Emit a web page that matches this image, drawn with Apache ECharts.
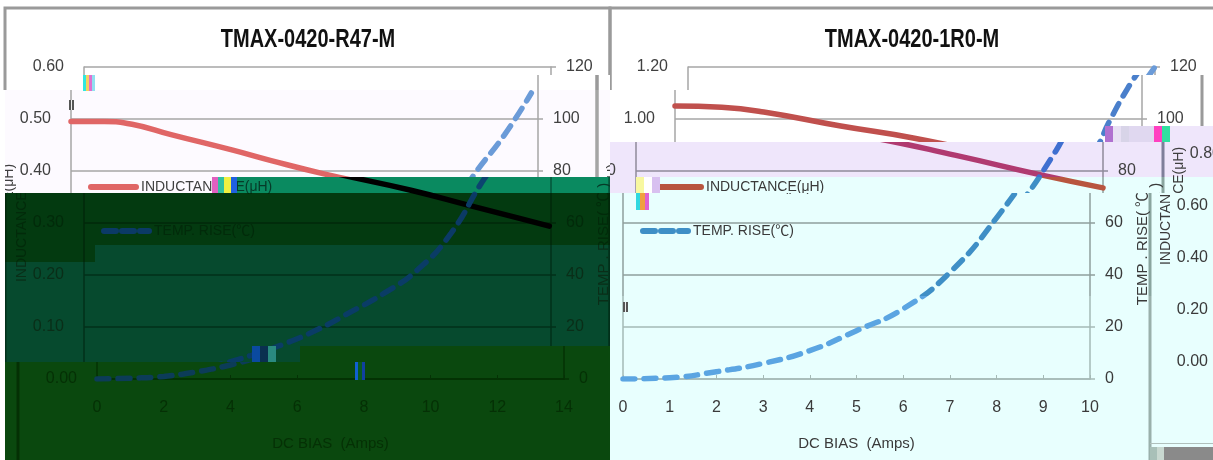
<!DOCTYPE html>
<html><head><meta charset="utf-8">
<style>
html,body{margin:0;padding:0;background:#fff;width:1213px;height:460px;overflow:hidden}
.slice{position:absolute;overflow:hidden}
.inner{position:absolute;width:1830px;height:460px}
.glitch{position:absolute}
</style>
<script src="https://cdn.jsdelivr.net/npm/echarts@6/dist/echarts.min.js"></script>
</head><body>
<script>
const titles = ['TMAX-0420-R47-M', 'TMAX-0420-1R0-M'];
const seriesNames = ['INDUCTANCE(μH)', 'TEMP. RISE(℃)'];
const tempAxisName = 'TEMP . RISE( ℃ )';
const xAxisName = 'DC BIAS  (Amps)';

const leftInductanceX = [0, 1, 1.83, 3, 4.85, 6, 7.55, 9.8, 11.6, 13, 13.95];
const leftInductance = [0.495, 0.495, 0.49, 0.47, 0.44, 0.42, 0.395, 0.363, 0.333, 0.31, 0.294];
const leftTempX = [0, 1, 2, 3, 4, 5, 6, 7, 8, 9, 10, 11, 12, 13, 13.8];
const leftTemp = [0, 0.3, 1, 2.8, 5.4, 9, 13.5, 19, 25.8, 33, 42, 56, 77, 94, 110];

const rightInductanceX = [0, 1, 1.9, 3.55, 5.1, 6.85, 8.67, 10];
const rightInductance = [1.05, 1.045, 1.027, 0.973, 0.927, 0.86, 0.785, 0.735];
const rightTempX = [0, 1, 2, 3, 4, 5, 6, 7, 8, 9, 9.3, 9.7, 10];
const rightTemp = [0, 0.5, 2.8, 6, 10.9, 18.6, 27, 41, 62, 88, 99, 112, 120];

const FONT = '"Liberation Sans",sans-serif';

const themes = {
  white:  {bg:'#ffffff', text:'#404040', grid:'#a6a6a6', frame:'#9a9a9a', red:'#e06666', blue:'#6b9bd8'},
  whiteR: {bg:'#ffffff', text:'#404040', grid:'#a6a6a6', frame:'#9a9a9a', red:'#c0504d', blue:'#4a7fcb'},
  faint:  {bg:'#fdfaff', text:'#404040', grid:'#a6a6a6', frame:'#a5a5a5', red:'#e06666', blue:'#6b9bd8'},
  mid:    {bg:'#0a8a60', text:'#063a28', grid:'#05553a', frame:'#05553a', red:'#000000', blue:'#0c4470'},
  dark:   {bg:'#033a10', text:'#022a0a', grid:'#02280a', frame:'#02280a', red:'#000000', blue:'#0b3a66'},
  green:  {bg:'#064a2e', text:'#0a2e18', grid:'#02301a', frame:'#02301a', red:'#000000', blue:'#0a3c66'},
  moss:   {bg:'#0a480e', text:'#053005', grid:'#053205', frame:'#043004', red:'#000000', blue:'#0c3c58'},
  lav:    {bg:'#efe6fb', text:'#404040', grid:'#8f8a9a', frame:'#7f7f9a', red:'#b03a70', blue:'#3f6fd0'},
  cyan1:  {bg:'#e8fffe', text:'#3a3a3a', grid:'#8f9f9c', frame:'#8aa59f', red:'#b8553f', blue:'#3f8fc6'},
  cyan2:  {bg:'#e8fffe', text:'#3a3a3a', grid:'#a5bab6', frame:'#9ab0ab', red:'#b8553f', blue:'#5ba5e2'}
};

// [x, y, width, height, horizontal shift, theme]
const slices = [
  [0, 0, 1213, 75, 0, 'white'],
  [0, 75, 95, 15, 0, 'white'],
  [95, 75, 515, 15, -13, 'white'],
  [610, 75, 90, 15, 0, 'whiteR'],
  [700, 75, 513, 15, -13, 'whiteR'],
  [5, 90, 605, 87, -13, 'faint'],
  [610, 90, 603, 36, -13, 'whiteR'],
  [610, 126, 495, 16, -13, 'whiteR'],
  [1105, 126, 108, 16, -52, 'lav'],
  [610, 142, 603, 35, -52, 'lav'],
  [5, 177, 232, 16, -13, 'faint'],
  [237, 177, 373, 16, 0, 'mid'],
  [610, 177, 40, 16, -52, 'lav'],
  [650, 177, 563, 16, -52, 'cyan1'],
  [5, 193, 605, 52, 0, 'dark'],
  [5, 245, 90, 17, 0, 'dark'],
  [95, 245, 515, 17, 0, 'green'],
  [5, 262, 605, 84, 0, 'green'],
  [5, 346, 295, 16, 0, 'green'],
  [300, 346, 310, 16, 13, 'moss'],
  [5, 362, 605, 98, 13, 'moss'],
  [610, 193, 603, 103, -65, 'cyan1'],
  [610, 296, 603, 164, -65, 'cyan2']
];

// [x, y, width, height, stripe colours]
const glitches = [
  [83, 75, 12, 16, '#30e8e0,#f4d060,#e070d0,#90e0f0'],
  [69, 100, 5, 10, '#555,#eee,#555'],
  [212, 177, 25, 16, '#e060c0,#30c0a0,#f0f040,#2060e0'],
  [252, 346, 24, 16, '#0a4aa0,#0a3050,#2a8a80'],
  [355, 362, 10, 18, '#1060d0,#0a5a20,#1040a0'],
  [636, 177, 24, 16, '#f8f8a0,#ffffff,#d8c0f0'],
  [636, 193, 13, 17, '#30d8e0,#f0a040,#e060d0'],
  [1105, 126, 65, 16, '#b070d0,#e8e0f4,#d8d4e8,#e0d8f0,#e0d8f0,#e0d8f0,#ff40c0,#30e0a0'],
  [623, 302, 5, 10, '#555,#eee,#555'],
  [1150, 447, 14, 13, '#a8c0b8,#c8d8d0']
];

function buildOption(t) {
  const text = {color: t.text, fontFamily: FONT};
  const panel = (left, top) => ({left, top, width: 467, height: 312});
  const xAxis = (gridIndex, max, interval, show) => ({
    type:'value', gridIndex, min:0, max, interval, show,
    name:xAxisName, nameLocation:'middle', nameGap:57,
    nameTextStyle:{...text, fontSize:15},
    axisLine:{show:true, onZero:false, lineStyle:{color:t.grid, width:1.5}},
    axisTick:{show:true, inside:true, length:4, lineStyle:{color:t.grid}},
    axisLabel:{...text, fontSize:16, margin:21},
    splitLine:{show:false}
  });
  const yLeft = (gridIndex, max, interval, name) => ({
    type:'value', gridIndex, position:'left', min:0, max, interval,
    name, nameLocation:'middle', nameGap:49, nameRotate:90,
    nameTextStyle:{color:t.text, fontFamily:FONT, fontSize:14},
    axisLine:{show:true, onZero:false, lineStyle:{color:t.grid, width:1.5}},
    axisTick:{show:false},
    axisLabel:{...text, fontSize:16, margin:20, formatter:v => v.toFixed(2)},
    splitLine:{show:gridIndex < 2, lineStyle:{color:t.grid, width:1.5}}
  });
  const yRight = (gridIndex) => ({
    type:'value', gridIndex, position:'right', min:0, max:120, interval:20,
    name:tempAxisName, nameLocation:'middle', nameGap:45, nameRotate:90,
    nameTextStyle:{color:t.text, fontFamily:'"Liberation Sans","Noto Sans CJK SC",sans-serif', fontSize:15, padding:[0,42,0,0]},
    axisLine:{show:true, onZero:false, lineStyle:{color:t.grid, width:1.5}},
    axisTick:{show:true, length:5, lineStyle:{color:t.grid, width:1.5}},
    axisLabel:{...text, fontSize:16, margin:15},
    splitLine:{show:false}
  });
  const redLine = (xs, ys, xi, yi) => ({
    name:seriesNames[0], type:'line', xAxisIndex:xi, yAxisIndex:yi, smooth:0.5, symbol:'none',
    data:xs.map((x,i)=>[x,ys[i]]),
    lineStyle:{color:t.red, width:5.5, cap:'round'}, itemStyle:{color:t.red}
  });
  const blueLine = (xs, ys, xi, yi) => ({
    name:seriesNames[1], type:'line', xAxisIndex:xi, yAxisIndex:yi, smooth:0.5, symbol:'none',
    data:xs.map((x,i)=>[x,ys[i]]),
    lineStyle:{color:t.blue, width:5.5, type:[12,9], cap:'round'}, itemStyle:{color:t.blue}
  });
  const legend = left => ({
    left, top:180, padding:0, orient:'vertical', itemWidth:45, itemHeight:6, itemGap:30,
    selectedMode:false,
    data:[
      {name:seriesNames[0], itemStyle:{opacity:0}, lineStyle:{color:t.red, width:6, cap:'round'}},
      {name:seriesNames[1], itemStyle:{opacity:0}, lineStyle:{color:t.blue, width:6, type:[12,6], cap:'round'}}
    ],
    textStyle:{color:t.text, fontFamily:'"Liberation Sans","Noto Sans CJK SC",sans-serif', fontSize:14}
  });
  const titleText = (text, x) => ({
    type:'text', silent:true, x, y:40, scaleX:0.8,
    style:{text, align:'center', verticalAlign:'middle', font:'bold 25px "Liberation Sans"', fill:'#111'}
  });
  return {
    animation:false,
    backgroundColor:'transparent',
    legend:[legend(101), legend(705)],
    grid:[panel(84,67), panel(688,67), panel(1293,50)],
    xAxis:[xAxis(0,14,2,true), xAxis(1,10,1,true), xAxis(2,10,1,false)],
    yAxis:[yLeft(0,0.6,0.1,seriesNames[0]), yRight(0), yLeft(1,1.2,0.2,seriesNames[0]), yRight(1), yLeft(2,1.2,0.2,seriesNames[0])],
    series:[
      redLine(leftInductanceX,leftInductance,0,0),
      blueLine(leftTempX,leftTemp,0,1),
      redLine(rightInductanceX,rightInductance,1,2),
      blueLine(rightTempX,rightTemp,1,3)
    ],
    graphic:[
      titleText(titles[0], 308),
      titleText(titles[1], 912),
      {type:'rect', silent:true, z:-1, shape:{x:5,y:8,width:605,height:470}, style:{fill:'none',stroke:t.frame,lineWidth:3}},
      {type:'rect', silent:true, z:-1, shape:{x:610,y:8,width:605,height:470}, style:{fill:'none',stroke:t.frame,lineWidth:3}},
      {type:'rect', silent:true, z:-1, shape:{x:1215,y:447,width:620,height:20}, style:{fill:'#8a8a8a'}},
      {type:'rect', silent:true, z:-1, shape:{x:1215,y:443,width:620,height:1}, style:{fill:'#b0c0bc'}}
    ]
  };
}

slices.forEach(([x,y,w,h,dx,name]) => {
  const t = themes[name];
  const s = document.createElement('div');
  s.className = 'slice';
  s.style.cssText = `left:${x}px;top:${y}px;width:${w}px;height:${h}px;background:${t.bg}`;
  const inner = document.createElement('div');
  inner.className = 'inner';
  inner.style.left = (dx - x) + 'px';
  inner.style.top = (-y) + 'px';
  s.appendChild(inner);
  document.body.appendChild(s);
  echarts.init(inner, null, {renderer:'canvas', width:1830, height:460}).setOption(buildOption(t));
});

glitches.forEach(([x,y,w,h,colors]) => {
  const g = document.createElement('div');
  g.className = 'glitch';
  const parts = colors.split(',');
  const stops = parts.map((c,i)=>`${c} ${i*100/parts.length}% ${(i+1)*100/parts.length}%`).join(',');
  g.style.cssText = `left:${x}px;top:${y}px;width:${w}px;height:${h}px;background:linear-gradient(90deg,${stops})`;
  document.body.appendChild(g);
});
</script>
</body></html>
